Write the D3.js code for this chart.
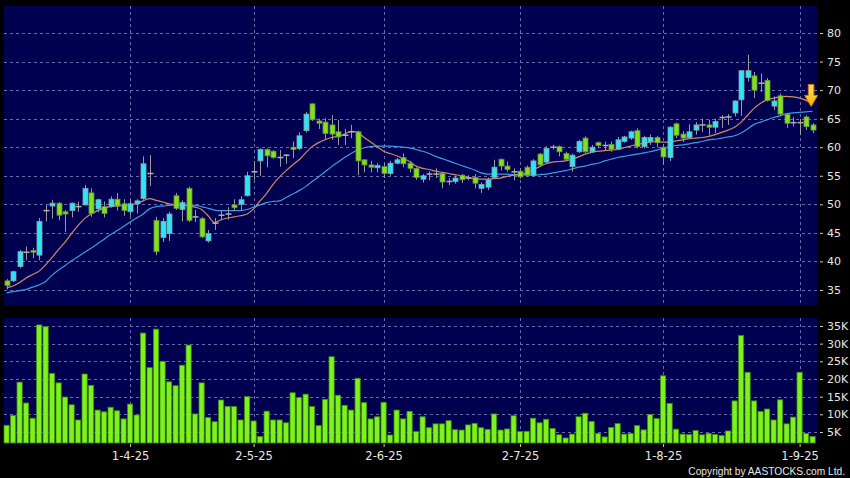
<!DOCTYPE html>
<html><head><meta charset="utf-8">
<script src="https://cdn.jsdelivr.net/npm/d3@7"></script>
<style>body{margin:0;background:#000;} svg{display:block;}</style>
</head><body><svg id="c" width="850" height="478"></svg>
<script>
const opens=[36.6,36.6,39.1,41.6,41.9,41.1,48.9,49.7,50.2,48.7,
48.9,49.6,49.9,52.0,49.2,49.6,49.6,50.9,50.1,48.7,
50.1,51.0,55.4,47.2,44.2,44.9,51.5,49.1,52.8,47.8,
47.5,43.6,46.7,48.1,48.3,49.9,50.0,51.5,55.7,57.6,
59.6,59.3,58.2,58.6,60.0,59.8,62.9,67.6,64.6,64.4,
63.9,62.7,62.1,62.7,62.7,57.8,56.9,56.4,56.6,55.4,
57.2,58.2,57.2,56.3,54.4,55.3,55.3,55.4,54.0,54.0,
55.1,54.6,54.7,52.8,53.0,54.7,57.9,56.7,55.7,55.8,
56.5,55.1,58.8,57.4,60.0,60.1,58.9,56.6,59.2,61.6,
59.2,60.8,60.3,60.5,59.7,61.0,61.6,62.9,60.1,61.0,
61.7,60.0,58.2,64.1,62.3,61.7,63.0,63.9,63.9,63.5,
65.2,65.3,66.0,68.3,72.2,72.5,71.2,71.7,67.2,69.0,
65.8,64.3,64.3,65.3,63.9];
const closes=[35.8,38.2,41.7,41.6,41.6,47.0,48.9,50.2,48.1,48.3,
50.2,49.6,52.8,48.4,50.8,48.4,50.9,49.7,48.9,50.1,
50.6,57.1,55.4,41.7,47.0,48.3,49.3,50.3,47.2,47.8,
44.3,44.9,46.7,48.1,48.3,49.4,50.8,55.0,55.7,59.6,
58.5,58.2,58.2,58.6,59.6,62.0,65.8,64.8,64.2,62.4,
62.3,61.8,62.1,62.7,57.6,56.9,56.5,56.8,55.4,57.2,
57.8,57.1,56.3,54.7,55.0,55.3,55.3,53.9,54.0,54.6,
54.3,54.6,53.7,53.5,54.3,56.5,56.7,56.1,55.7,54.8,
55.1,57.6,56.9,59.8,60.0,59.2,57.9,58.6,61.0,59.2,
60.0,60.3,60.3,59.6,61.3,61.8,62.7,60.1,61.7,61.7,
60.8,58.3,63.5,62.1,61.6,62.7,63.9,63.9,63.5,64.5,
65.2,65.3,68.1,73.4,73.4,70.0,71.2,68.2,68.1,65.8,
64.2,64.3,64.3,63.6,63.0];
const highs=[36.9,38.4,42.0,42.6,42.4,47.6,49.9,50.8,50.4,49.0,
50.3,50.5,53.4,52.8,51.0,50.5,51.4,52.0,50.9,50.9,
50.9,58.4,58.6,47.8,47.6,48.7,52.0,50.7,53.1,49.0,
47.8,45.5,47.6,48.9,49.5,50.9,51.4,55.7,57.6,59.8,
59.8,59.5,59.5,58.8,61.0,62.6,66.2,67.6,65.0,65.1,
65.6,64.8,63.2,63.9,62.9,57.9,57.6,57.2,57.2,57.6,
58.1,58.9,57.6,56.5,55.3,55.8,56.3,55.6,54.6,55.0,
55.3,55.1,55.3,53.8,54.7,57.8,58.0,57.5,56.3,56.3,
56.8,57.9,59.0,60.2,60.4,60.3,59.2,58.9,61.3,61.9,
60.4,61.0,61.0,61.0,61.8,62.0,62.9,63.3,62.0,62.2,
62.0,60.5,63.7,64.3,62.8,64.0,64.4,65.0,64.8,65.0,
65.6,65.8,68.2,73.4,76.2,73.2,72.9,72.1,68.9,69.4,
65.9,65.3,65.0,65.6,64.2];
const lows=[35.1,36.4,38.8,40.2,40.6,40.2,47.0,47.5,47.2,45.2,
47.7,48.7,49.8,47.8,48.6,47.7,49.4,48.9,48.0,48.0,
48.4,50.8,53.2,41.1,43.4,43.6,49.0,47.0,46.9,46.9,
44.1,43.3,45.5,47.3,47.3,48.9,48.9,51.4,54.3,55.0,
56.5,58.0,56.6,57.1,58.1,59.5,62.6,64.6,63.2,61.3,
61.3,60.4,60.4,61.6,55.1,55.6,55.6,55.6,54.6,55.0,
57.0,56.5,55.6,54.3,53.8,54.2,54.6,52.8,53.4,53.6,
53.7,54.2,52.8,52.0,52.5,54.5,55.9,55.7,54.2,54.5,
54.8,54.9,56.6,57.2,59.6,58.4,57.6,55.7,59.0,59.0,
59.0,59.8,59.5,59.2,59.5,60.8,61.3,59.8,59.8,60.4,
60.0,56.9,57.6,61.6,60.9,61.5,62.2,62.7,62.1,62.5,
63.4,63.9,65.4,65.5,71.5,68.6,69.7,68.0,66.5,65.6,
63.4,63.6,62.1,63.0,62.5];
const volumesK=[6.9,9.7,19.1,13.2,8.9,35.3,34.8,21.6,18.9,14.9,
12.7,8.4,21.4,18.2,11.2,10.7,12.0,11.0,8.7,12.9,
9.8,33.0,23.2,34.1,25.0,19.2,18.1,23.9,29.6,10.1,
18.9,9.1,7.9,14.05,12.2,12.2,8.4,15.0,8.1,3.7,
10.9,8.4,8.4,7.6,16.1,14.7,15.7,12.2,6.8,14.25,
26.3,15.4,12.55,11.2,20.2,13.3,8.7,9.3,13.4,4.15,
11.2,8.7,10.85,5.1,9.3,6.2,7.3,7.3,8.2,5.65,
5.55,7.0,7.45,6.2,5.75,10.1,5.55,5.85,9.6,5.1,
5.2,8.9,7.6,8.6,6.0,4.2,3.3,4.4,9.3,10.3,
8.0,4.6,3.6,6.3,7.4,4.4,4.6,6.8,5.6,10.0,
8.8,20.9,13.1,5.8,4.4,4.3,5.4,4.2,4.6,4.3,
4.0,5.3,13.8,32.3,21.9,13.8,10.8,11.5,8.4,14.1,
7.3,9.2,21.9,4.6,3.7];
const ma10=[35.4,35.7,36.3,37.1,37.7,38.3,39.4,40.7,42.1,43.4,
44.9,46.3,47.5,48.3,48.9,49.3,49.6,49.7,49.8,49.9,
50.1,50.6,51.0,50.7,50.4,50.1,49.9,49.9,49.7,49.5,
49.1,48.0,46.8,47.3,47.6,47.8,48.0,48.3,49.2,50.6,
51.9,53.5,54.8,55.9,56.9,57.8,59.0,60.1,60.8,61.3,
61.7,61.9,62.3,62.8,62.6,61.7,60.9,60.1,59.3,58.9,
58.5,58.0,57.5,56.7,56.3,56.1,55.8,55.6,55.4,55.2,
55.0,54.7,54.5,54.4,54.4,54.5,54.6,54.9,55.1,55.2,
55.5,56.0,56.6,57.1,57.4,57.5,57.6,57.9,58.3,58.8,
59.1,59.3,59.4,59.5,59.6,59.9,60.2,60.5,60.7,60.9,
61.0,60.9,60.9,61.1,61.3,61.5,61.6,61.7,61.9,62.2,
62.6,63.0,63.5,64.4,65.6,66.8,67.7,68.3,68.6,68.8,
68.9,68.8,68.6,68.2,67.5];
const ma20=[34.5,34.7,34.9,35.1,35.5,35.9,36.5,37.6,38.5,39.3,
40.1,40.8,41.6,42.3,43.1,43.9,44.7,45.4,46.1,46.9,
47.6,48.3,49.2,49.6,49.7,49.8,49.9,49.9,49.8,49.8,
49.6,49.3,49.0,48.9,48.9,48.9,48.9,49.1,49.5,49.9,
50.3,50.5,50.6,51.2,51.8,52.4,53.1,54.0,54.8,55.7,
56.6,57.4,58.2,58.9,59.5,59.9,60.1,60.2,60.2,60.2,
60.1,60.0,59.9,59.6,59.3,58.9,58.4,58.0,57.6,57.2,
56.8,56.4,56.0,55.5,55.3,55.3,55.3,55.3,55.2,55.2,
55.1,55.1,55.2,55.3,55.5,55.7,55.9,56.2,56.5,56.7,
57.0,57.2,57.6,57.9,58.2,58.4,58.6,58.8,59.0,59.2,
59.5,59.8,60.1,60.3,60.4,60.6,60.8,61.0,61.3,61.4,
61.6,61.8,62.0,62.5,63.2,64.0,64.4,64.8,65.2,65.5,
65.9,66.0,66.1,66.2,66.3];
const priceTicks=[35,40,45,50,55,60,65,70,75,80];
const volumeTicksK=[5,10,15,20,25,30,35];
const dateTickIndex=[19,38,58,79,101,122];
const dateTickLabels=["1-4-25","2-5-25","2-6-25","2-7-25","1-8-25","1-9-25"];

const svg=d3.select("#c");
const W=850,H=478;
const L=4,R=817, pTop=6,pBot=305, vTop=318,vBot=443;
const n=closes.length;
const bars=d3.range(n).map(i=>({i,o:opens[i],h:highs[i],l:lows[i],c:closes[i],v:volumesK[i],m10:ma10[i],m20:ma20[i]}));

const x=d3.scaleLinear().domain([0,n-1]).range([6.6,812.6]);
const yP=d3.scaleLinear().domain([32.37,84.73]).range([pBot,pTop]);
const yV=d3.scaleLinear().domain([1.88,37.26]).range([vBot,vTop]);

const defs=svg.append("defs");
const gr=defs.append("linearGradient").attr("id","ag").attr("x1",0).attr("y1",0).attr("x2",0).attr("y2",1);
gr.append("stop").attr("offset","0%").attr("stop-color","#ffe066");
gr.append("stop").attr("offset","100%").attr("stop-color","#ffb300");

svg.append("rect").attr("width",W).attr("height",H).attr("fill","#000");
svg.append("rect").attr("x",L).attr("y",pTop).attr("width",R-L).attr("height",pBot-pTop).attr("fill","#000050");
svg.append("rect").attr("x",L).attr("y",vTop).attr("width",R-L).attr("height",vBot-vTop).attr("fill","#000050");

const gridCol="#6a6aa6";
svg.append("g").selectAll("line").data(priceTicks).join("line")
 .attr("x1",L).attr("x2",R).attr("y1",d=>Math.round(yP(d))+0.5).attr("y2",d=>Math.round(yP(d))+0.5)
 .attr("stroke",gridCol).attr("stroke-dasharray","3,3").attr("stroke-width",1);
svg.append("g").selectAll("line").data(volumeTicksK).join("line")
 .attr("x1",L).attr("x2",R).attr("y1",d=>Math.round(yV(d))+0.5).attr("y2",d=>Math.round(yV(d))+0.5)
 .attr("stroke",gridCol).attr("stroke-dasharray","3,3").attr("stroke-width",1);
const vg=svg.append("g");
dateTickIndex.forEach(t=>{
  const xx=Math.round(x(t))+0.5;
  vg.append("line").attr("x1",xx).attr("x2",xx).attr("y1",pTop).attr("y2",pBot).attr("stroke",gridCol).attr("stroke-dasharray","3,3");
  vg.append("line").attr("x1",xx).attr("x2",xx).attr("y1",vTop).attr("y2",vBot).attr("stroke",gridCol).attr("stroke-dasharray","3,3");
});

const line=key=>d3.line().x(d=>x(d.i)).y(d=>yP(d[key])).curve(d3.curveMonotoneX);
svg.append("path").datum(bars).attr("d",line("m20")).attr("fill","none").attr("stroke","#3d9be0").attr("stroke-width",1.2);
svg.append("path").datum(bars).attr("d",line("m10")).attr("fill","none").attr("stroke","#d08a68").attr("stroke-width",1.2);

const bw=5;
const cg=svg.append("g");
bars.forEach(d=>{
  const cx=Math.round(x(d.i))+0.5;
  cg.append("line").attr("x1",cx).attr("x2",cx).attr("y1",yP(d.h)).attr("y2",yP(d.l)).attr("stroke","#9a9a9a").attr("stroke-width",1);
  if(d.c===d.o){
    cg.append("line").attr("x1",cx-3).attr("x2",cx+3).attr("y1",yP(d.c)).attr("y2",yP(d.c)).attr("stroke","#b0b0b0").attr("stroke-width",1.5);
  } else {
    const up=d.c>d.o;
    const top=yP(Math.max(d.o,d.c)), bot=yP(Math.min(d.o,d.c));
    cg.append("rect").attr("x",cx-bw/2).attr("y",top).attr("width",bw).attr("height",Math.max(1.5,bot-top))
      .attr("fill",up?"#30e4f4":"#7ee21e").attr("stroke",up?"#8aa0a8":"#6f8a40").attr("stroke-width",0.8);
  }
});

svg.append("g").selectAll("rect").data(bars).join("rect")
 .attr("x",d=>x(d.i)-2.6).attr("width",5.2)
 .attr("y",d=>yV(d.v)).attr("height",d=>vBot-yV(d.v))
 .attr("fill","#7df21c").attr("stroke","#3f8a10").attr("stroke-width",0.8);

const ax=x(n-1)-1.5, ayTop=yP(ma10[n-1])-20, ayTip=yP(ma10[n-1])+2;
const ayNeck=ayTop+11;
svg.append("path")
 .attr("d",`M${ax-2.8},${ayTop} L${ax+2.8},${ayTop} L${ax+2.8},${ayNeck} L${ax+6.5},${ayNeck} L${ax},${ayTip} L${ax-6.5},${ayNeck} L${ax-2.8},${ayNeck} Z`)
 .attr("fill","url(#ag)").attr("stroke","#d07a00").attr("stroke-width",1);

const txt="#e6e6e6";
const pa=svg.append("g").attr("transform",`translate(${R+3},0)`).call(d3.axisRight(yP).tickValues(priceTicks).tickSize(3).tickPadding(4));
const va=svg.append("g").attr("transform",`translate(${R+3},0)`).call(d3.axisRight(yV).tickValues(volumeTicksK).tickFormat(d=>d+"K").tickSize(3).tickPadding(4));
[pa,va].forEach(g=>{
  g.select(".domain").remove();
  g.selectAll("line").attr("stroke","#cccccc");
  g.selectAll("text").attr("fill",txt).style("font-family","DejaVu Sans, sans-serif").style("font-size","11px");
});
const xa=svg.append("g").attr("transform",`translate(0,${vBot+1})`)
 .call(d3.axisBottom(x).tickValues(dateTickIndex).tickFormat((d,k)=>dateTickLabels[k]).tickSize(3).tickPadding(5));
xa.select(".domain").remove();
xa.selectAll("line").attr("stroke","#cccccc");
xa.selectAll("text").attr("fill",txt).style("font-family","DejaVu Sans, sans-serif").style("font-size","11.5px");

svg.append("text").attr("x",845).attr("y",474.5).attr("text-anchor","end")
 .attr("fill",txt).style("font-family","'Liberation Sans', Arial, sans-serif").style("font-size","10.2px")
 .text("Copyright by AASTOCKS.com Ltd.");
</script></body></html>
